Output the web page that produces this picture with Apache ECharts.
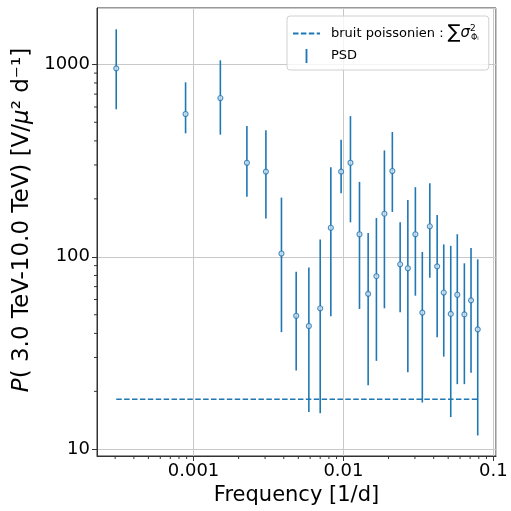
<!DOCTYPE html>
<html>
<head>
<meta charset="utf-8">
<script src="https://cdn.jsdelivr.net/npm/echarts@6/dist/echarts.min.js"></script>
<style>html,body{margin:0;padding:0;background:#fff}#c{width:511px;height:511px}</style>
</head>
<body>
<div id="c"></div>
<script>
// ---- data ----
var freq = [0.000305, 0.000885, 0.00151, 0.00227, 0.00304, 0.00386, 0.00484, 0.00588, 0.00700, 0.00824,
            0.00965, 0.01114, 0.0128, 0.01462, 0.0166, 0.01877, 0.0212, 0.0239, 0.0269, 0.0302,
            0.0336, 0.0377, 0.0422, 0.0467, 0.0520, 0.0575, 0.0641, 0.0710, 0.0787];
var psd  = [953, 552, 668, 308, 277, 104, 49.4, 43.7, 54, 141.6,
            277, 308, 131, 64.2, 79.3, 167.5, 279, 91.4, 87.2, 131,
            51.3, 144, 89.2, 65.2, 50.5, 63.5, 50.2, 59.4, 42];
var psdHi = [1520, 806, 1049, 478, 455, 203, 83.7, 88.1, 123, 292,
             405, 538, 245, 133, 159, 357, 445, 151, 197, 230,
             106, 241, 165, 116, 114, 131, 92.5, 111, 97];
var psdLo = [584, 438, 431, 205, 158, 40.6, 25.7, 15.6, 15.4, 49.1,
             214, 151, 53.6, 21.5, 28.8, 54, 171, 51.5, 25.1, 62.8,
             17.5, 77.8, 38.2, 30.3, 14.7, 21.8, 21.8, 25, 11.8];
var noiseLevel = 18.2;
var xMinorTicks = [0.0003, 0.0004, 0.0005, 0.0006, 0.0007, 0.0008, 0.0009,
                   0.002, 0.003, 0.004, 0.005, 0.006, 0.007, 0.008, 0.009,
                   0.02, 0.03, 0.04, 0.05, 0.06, 0.07, 0.08, 0.09];
var yMinorTicks = [20, 30, 40, 50, 60, 70, 80, 90, 200, 300, 400, 500, 600, 700, 800, 900];
var xRange = [0.000227, 0.1042];
var yRange = [9.23, 1961];
var noiseName = 'bruit';
var psdName = 'PSD';

// ---- chart ----
var blue = '#1f77b4';
var FONT = 'DejaVu Sans';
var chart = echarts.init(document.getElementById('c'), null, {renderer: 'canvas'});

var errData = freq.map(function (f, i) { return [f, psdLo[i], psdHi[i]]; });
var ptData = freq.map(function (f, i) { return [f, psd[i]]; });
var noiseData = [[freq[0], noiseLevel], [freq[freq.length - 1], noiseLevel]];

function fmt(v) { return String(Number(v.toPrecision(6))); }

var option = {
  animation: false,
  backgroundColor: '#fff',
  grid: {left: 97, right: 15, top: 8, bottom: 55, show: true, borderColor: '#333', borderWidth: 1, backgroundColor: 'transparent'},
  legend: {
    orient: 'vertical',
    left: 287, top: 16,
    padding: [8, 10, 7, 5],
    itemWidth: 27, itemHeight: 14, itemGap: 6,
    backgroundColor: 'rgba(255,255,255,0.8)',
    borderColor: '#d0d0d0', borderWidth: 1, borderRadius: 3,
    data: [{name: noiseName, itemStyle: {opacity: 0}}, {name: psdName, icon: 'path://M0,0h1.6v12h-1.6z'}],
    formatter: function (name) {
      if (name === noiseName) return '{t|bruit poissonien : }{sum|∑}{sig|σ}{sup|2}{sub|Φᵢ}';
      return '{t|PSD}';
    },
    textStyle: {
      fontFamily: FONT, fontSize: 13, color: '#000', padding: [0, 0, 0, 6],
      rich: {
        t: {fontFamily: FONT, fontSize: 13, color: '#000'},
        sum: {fontFamily: FONT, fontSize: 19, color: '#000'},
        sig: {fontFamily: FONT, fontSize: 15, fontStyle: 'italic', color: '#000'},
        sup: {fontFamily: FONT, fontSize: 9, color: '#000', padding: [0, 0, 9, 0], width: 1},
        sub: {fontFamily: FONT, fontSize: 8, color: '#000', padding: [8, 0, 0, 0]}
      }
    }
  },
  xAxis: {
    type: 'log', logBase: 10, min: xRange[0], max: xRange[1],
    name: 'Frequency [1/d]', nameLocation: 'middle', nameGap: 26,
    nameTextStyle: {fontFamily: FONT, fontSize: 21, color: '#000'},
    axisLine: {show: true, lineStyle: {color: '#333', width: 1}},
    axisTick: {show: true, length: 5, lineStyle: {color: '#333', width: 1}},
    axisLabel: {fontFamily: FONT, fontSize: 18, color: '#000', margin: 6, showMinLabel: false, showMaxLabel: false, formatter: fmt},
    splitLine: {show: true, lineStyle: {color: '#c8c8c8', width: 1}}
  },
  yAxis: {
    type: 'log', logBase: 10, min: yRange[0], max: yRange[1],
    name: '{it|P}( 3.0 TeV-10.0 TeV) [V/{it|μ}² d⁻¹]', nameLocation: 'middle', nameGap: 58, nameRotate: 90,
    nameTextStyle: {fontFamily: FONT, fontSize: 23, color: '#000', padding: [0, 0, 0, 24],
      rich: {it: {fontFamily: FONT, fontSize: 23, fontStyle: 'italic', color: '#000'}}},
    axisLine: {show: true, lineStyle: {color: '#333', width: 1}},
    axisTick: {show: true, length: 5, lineStyle: {color: '#333', width: 1}},
    axisLabel: {fontFamily: FONT, fontSize: 18, color: '#000', margin: 7, showMinLabel: false, showMaxLabel: false, formatter: fmt},
    splitLine: {show: true, lineStyle: {color: '#c8c8c8', width: 1}}
  },
  series: [
    {
      name: noiseName, type: 'line', data: noiseData, symbol: 'none', z: 3,
      lineStyle: {color: blue, width: 1.5, type: [5.5, 2.4]},
      itemStyle: {color: 'rgba(0,0,0,0)'}
    },
    {
      name: psdName, type: 'custom', data: errData, z: 4,
      encode: {x: 0, y: [1, 2]},
      itemStyle: {color: blue},
      renderItem: function (params, api) {
        var p1 = api.coord([api.value(0), api.value(1)]);
        var p2 = api.coord([api.value(0), api.value(2)]);
        return {type: 'line', shape: {x1: p1[0], y1: p1[1], x2: p2[0], y2: p2[1]},
                style: {stroke: blue, lineWidth: 1.6}};
      }
    },
    {
      name: 'psdPoints', type: 'scatter', data: ptData, z: 5,
      symbol: 'circle', symbolSize: 5,
      itemStyle: {color: '#cfe0ee', borderColor: blue, borderWidth: 1.1}
    },
    {
      name: 'xMinor', type: 'custom', silent: true, clip: false, z: 6,
      data: xMinorTicks.map(function (v) { return [v, 100]; }),
      encode: {x: 0, y: 1},
      renderItem: function (params, api) {
        var p = api.coord([api.value(0), 100]);
        var yb = params.coordSys.y + params.coordSys.height;
        return {type: 'line', shape: {x1: p[0], y1: yb, x2: p[0], y2: yb + 3},
                style: {stroke: '#333', lineWidth: 1}};
      }
    },
    {
      name: 'yMinor', type: 'custom', silent: true, clip: false, z: 6,
      data: yMinorTicks.map(function (v) { return [0.01, v]; }),
      encode: {x: 0, y: 1},
      renderItem: function (params, api) {
        var p = api.coord([0.01, api.value(1)]);
        var xl = params.coordSys.x;
        return {type: 'line', shape: {x1: xl, y1: p[1], x2: xl - 3, y2: p[1]},
                style: {stroke: '#333', lineWidth: 1}};
      }
    }
  ]
};
chart.setOption(option);
</script>
</body>
</html>
